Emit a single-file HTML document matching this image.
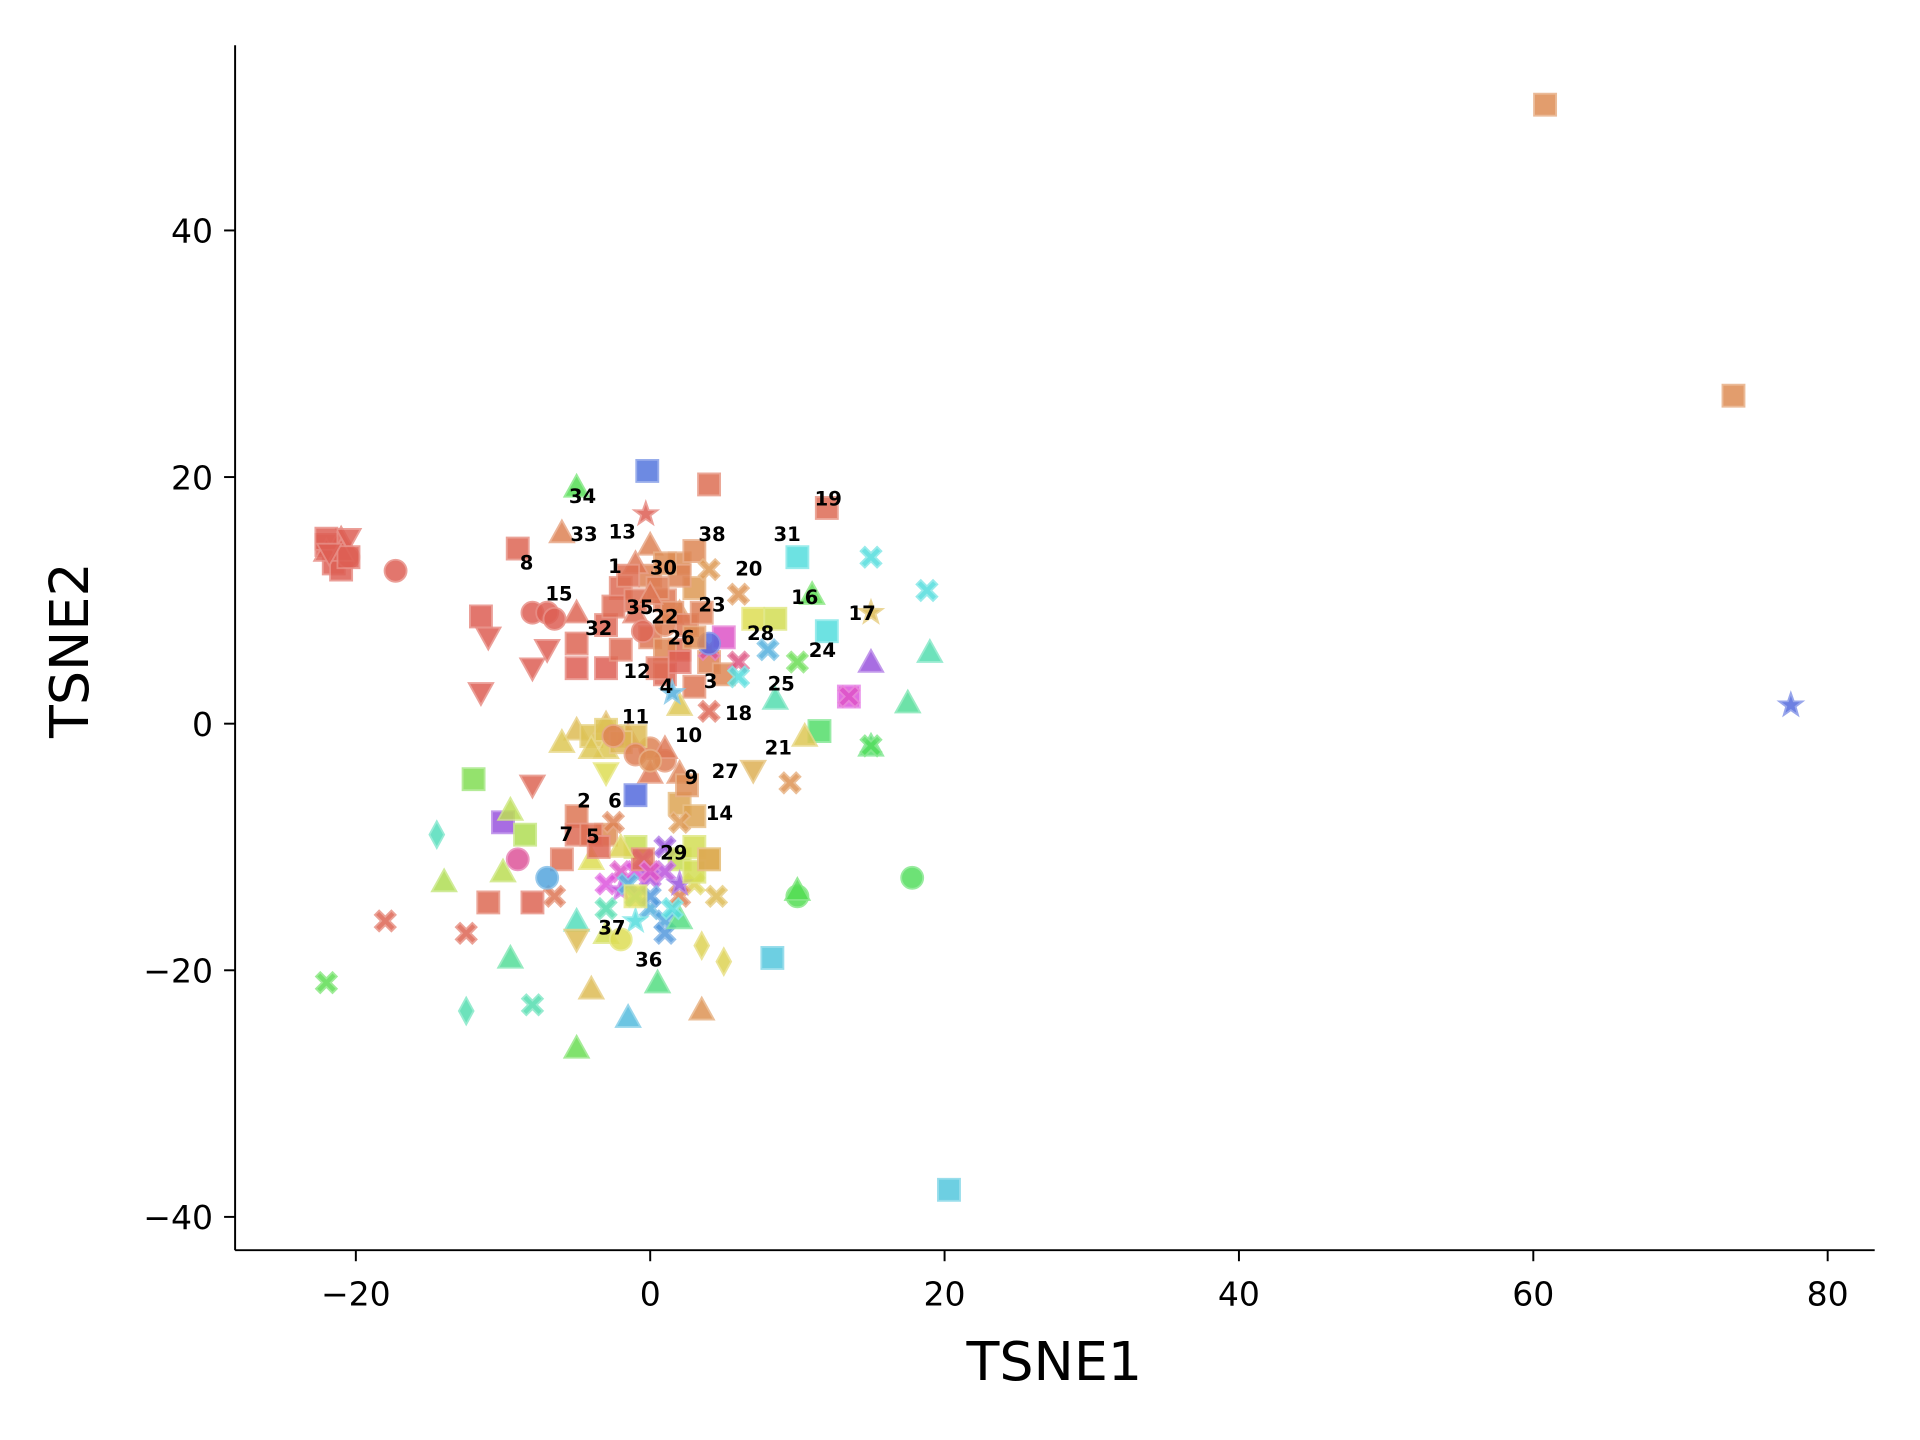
<!DOCTYPE html>
<html><head><meta charset="utf-8"><style>
html,body{margin:0;padding:0;background:#fff}
svg{display:block}
text{font-family:"DejaVu Sans","Liberation Sans",sans-serif}
</style></head><body>
<svg id="chart" width="1920" height="1440" viewBox="0 0 1568 1176" xmlns="http://www.w3.org/2000/svg">
<g id="axes"></g>
<g id="points"></g>
<g id="labels"></g>
</svg>
<script>
const xs=[60.8,73.6,77.5,20.3,-22,-21,-20.5,-21.5,-22,-21,-20.5,-17.3,-9,-11.5,-11,-11.5,-8,-7,-6.5,-7,-8,-5,-5,-5,-6,-5,-0.2,4,12,-0.3,-2,0,1,-1,2,3,-3,0,2,4,5,3,1,-3,-2,1,2,-1,0,3,4,6,4,4,6,5,4,6,8,7,8.5,10,11,12,10,15,18.8,15,15,19,17.5,15,15,8.5,13.5,13.5,11.5,10.5,7,9.5,-5,-4,-3,-2,-3,-6,-1.5,0,1,0,2,-3,2,3,2,-1,-8,-5,-5,-6,-3,-4,-2,-1,0,-3,-2,-1,0,1,1,-1,-3,-5,-3,-2,1,-1,2,3,4,3,4.5,2,-6.5,-7,-9,-10,-9.5,-8.5,-10,-12,-11,-8,-14.5,-14,-18,-12.5,-9.5,-5,-4,-8,-12.5,-22,-5,-1.5,0.5,3.5,3.5,5,8.3,10,10,17.8,2,2,1.5,
-1,0.5,1.5,2.5,-0.5,1,3,-2.5,0,2,1,-1.5,3.5,2,0.5,-1,-3,-2,-4,-2.5,-1,1,0,-0.5,1,2,-1.5,0,1.5,-1,-0.5,-2,0,3,4,2.5,-22,-21,-20.5,-21.8,-4,-3.5,-2.5];
const ys=[50.2,26.6,1.5,-37.8,14.5,15,15,13,14,12.5,13.5,12.4,14.2,8.7,7,2.5,9,9,8.5,6,4.5,9,6.5,4.5,15.5,19.2,20.5,19.4,17.5,17,11,12,10,9,13,14,8,7,6,5,4,3,4,4.5,6,8,9,13,14.5,11,12.5,10.5,1,6,5,7,6.5,3.8,6,8.5,8.5,5,10.5,7.5,13.5,13.5,10.8,9,5,5.8,1.7,-1.8,-1.8,2,2.2,2.2,-0.6,-1,-3.8,-4.8,-0.5,-1,0,-1,-2,-1.5,-1,-2,-3,-4,-4,-4,-6.5,-7.5,-8,-5.8,-5,-7.5,-9,-11,-9,-11,-12,-12,-12.5,-13,-13.5,-14,-15,-16,-17,-16,-15,-16,-17,-17.5,-10,-10,-11,-10,-11,-13,-14,-14,-14,-12.5,-11,-8,-7,-9,-12,-4.5,-14.5,-14.5,-9,-12.8,-16,-17,-19,-17.5,-21.5,-22.8,-23.3,-21,-26.3,-23.8,-21,-23.2,-18,-19.3,-19,-14,-13.5,-12.5,-15.8,1.5,2.5,
10,11,9,8,7.5,6,7,9.5,10.5,12,13,12,9,5,4.5,-1,-0.5,-1.5,-2,-1,-2.5,-2,-3,-11,-12,-13,-13,-14,-15,-14,-11,-10,-12,-12,-11,-5,15,14,13.5,13.8,-9,-10,-8];
const shapes=["s","s","*","s","s","^","v","s","^","s","o","o","s","s","v","v","o","o","o","v","v","^","s","s","^","^","s","s","s","*","s","s","s","^","s","s","s","s","s","s","s","s","s","s","s","o","^","^","^","s","X","X","X","X","X","s","o","X","X","s","s","X","^","s","s","X","X","*","^","^","^","^","X","^","s","X","s","^","v","X","^","s","^","o","^","^","^","o","o","^","^","v","s","s","X","s","v","s","s","s","s","^","X","X","X","X","*","X","X","X","X","*","X","^","^","o","X","s","s","s","s","X","X","X","X","o","o","s","^","s","^","s","s","s","d","^","X","X","^","v","^","X","d","X","^","^","^","^","d","d","s","o","^","o","^","^","*",
"s","s","s","s","o","s","s","s","^","s","s","s","s","s","s","s","s","s","^","o","o","^","o","X","X","*","X","X","X","s","s","^","X","s","s","s","s","^","s","v","s","s","X"];
const hues=[25,25,230,190,5,5,5,5,5,5,5,5,8,5,5,5,5,5,5,5,5,8,8,5,20,120,225,12,10,5,10,20,15,10,25,22,8,15,12,20,22,15,8,5,10,18,25,15,20,30,30,28,8,330,340,310,230,180,200,60,65,110,115,180,180,180,180,45,270,160,150,130,125,160,300,310,130,50,40,28,45,48,42,45,50,50,10,20,18,15,20,60,35,35,30,230,8,15,10,12,25,60,310,300,280,300,290,170,200,205,210,180,160,165,65,60,270,70,70,65,60,55,45,20,15,205,330,270,75,80,75,100,10,8,165,80,8,8,150,45,45,160,160,115,110,195,140,28,55,55,190,120,120,125,140,50,200,
12,18,20,15,8,22,25,10,15,20,25,12,18,5,10,45,48,42,50,20,18,15,25,300,285,270,200,210,180,60,10,55,310,65,35,25,5,5,5,5,12,8,20];
const labelText=["34","33","13","8","1","30","38","20","31","19","16","17","15","35","22","23","32","26","28","24","12","4","3","25","18","11","10","21","27","9","2","6","14","7","5","29","37","36"];
const labelX=[-4.6,-4.5,-1.9,-8.4,-2.4,0.9,4.2,6.7,9.3,12.1,10.5,14.4,-6.2,-0.7,1.0,4.2,-3.5,2.1,7.5,11.7,-0.9,1.1,4.1,8.9,6.0,-1.0,2.6,8.7,5.1,2.8,-4.5,-2.4,4.7,-5.7,-3.9,1.6,-2.6,-0.1];
const labelY=[18.5,15.4,15.6,13.1,12.8,12.7,15.4,12.6,15.4,18.3,10.3,9.0,10.6,9.5,8.7,9.7,7.8,7.0,7.4,6.0,4.3,3.1,3.5,3.3,0.9,0.6,-0.9,-1.9,-3.8,-4.3,-6.2,-6.2,-7.2,-8.9,-9.1,-10.4,-16.5,-19.1];
const xTicks=[-20,0,20,40,60,80];
const yTicks=[-40,-20,0,20,40];

const NS="http://www.w3.org/2000/svg";
const X=v=>531+12.02*v, Y=v=>591-10.07*v;
function mk(tag,attrs,parent){const e=document.createElementNS(NS,tag);for(const k in attrs)e.setAttribute(k,attrs[k]);parent.appendChild(e);return e;}
const axes=document.getElementById('axes');
let e=mk('line',{x1:192,y1:37,x2:192,y2:1021,stroke:'#000','stroke-width':1.6},axes);


e=mk('line',{x1:192,y1:1021,x2:1531,y2:1021,stroke:'#000','stroke-width':1.6},axes);


xTicks.forEach(t=>{
  const l=mk('line',{x1:X(t),y1:1021,x2:X(t),y2:1030,stroke:'#000','stroke-width':1.6},axes);
  
  
  const tx=mk('text',{x:X(t),y:1066,'text-anchor':'middle','font-size':27},axes);
  tx.textContent=String(t).replace('-','\u2212');
  
  
});
yTicks.forEach(t=>{
  const l=mk('line',{x1:183,y1:Y(t),x2:192,y2:Y(t),stroke:'#000','stroke-width':1.6},axes);
  
  
  const tx=mk('text',{x:174,y:Y(t)+10,'text-anchor':'end','font-size':27},axes);
  tx.textContent=String(t).replace('-','\u2212');
  
  
});
e=mk('text',{x:861,y:1127,'text-anchor':'middle','font-size':44},axes);
e.textContent='TSNE1';


e=mk('text',{x:72,y:531,'text-anchor':'middle','font-size':44,transform:'rotate(-90 72 531)'},axes);
e.textContent='TSNE2';



const pts=document.getElementById('points');
function shapePath(s,cx,cy){
  const r=9;
  if(s==='s')return `M${cx-r} ${cy-r}h${2*r}v${2*r}h${-2*r}Z`;
  if(s==='^')return `M${cx} ${cy-r-1}L${cx+r+1} ${cy+r-1}L${cx-r-1} ${cy+r-1}Z`;
  if(s==='v')return `M${cx} ${cy+r+1}L${cx+r+1} ${cy-r+1}L${cx-r-1} ${cy-r+1}Z`;
  if(s==='d')return `M${cx} ${cy-r-2}L${cx+r-3} ${cy}L${cx} ${cy+r+2}L${cx-r+3} ${cy}Z`;
  if(s==='X'){const a=3.5,b=8.5;return `M${cx-b} ${cy-b+a}L${cx-b+a} ${cy-b}L${cx} ${cy-a}L${cx+b-a} ${cy-b}L${cx+b} ${cy-b+a}L${cx+a} ${cy}L${cx+b} ${cy+b-a}L${cx+b-a} ${cy+b}L${cx} ${cy+a}L${cx-b+a} ${cy+b}L${cx-b} ${cy+b-a}L${cx-a} ${cy}Z`;}
  if(s==='*'){let d='';for(let i=0;i<10;i++){const rr=i%2?4:10,ang=-Math.PI/2+i*Math.PI/5;d+=(i?'L':'M')+(cx+rr*Math.cos(ang)).toFixed(1)+' '+(cy+rr*Math.sin(ang)).toFixed(1);}return d+'Z';}
  return null;
}
xs.forEach((v,i)=>{
  const cx=X(v),cy=Y(ys[i]),fill=`hsl(${hues[i]},68%,60%)`,stroke=`hsl(${hues[i]},68%,72%)`;
  let el;
  if(shapes[i]==='o')el=mk('circle',{cx:cx,cy:cy,r:9,fill:fill,stroke:stroke,'stroke-width':1.5,opacity:0.85},pts);
  else el=mk('path',{d:shapePath(shapes[i],cx,cy),fill:fill,stroke:stroke,'stroke-width':1.5,opacity:0.85},pts);
  
  
});
const lg=document.getElementById('labels');
labelText.forEach((t,i)=>{
  const tx=mk('text',{x:X(labelX[i]),y:Y(labelY[i])+6,'text-anchor':'middle','font-size':16,'font-weight':'bold'},lg);
  tx.textContent=t;
  
  
});
</script>
</body></html>
